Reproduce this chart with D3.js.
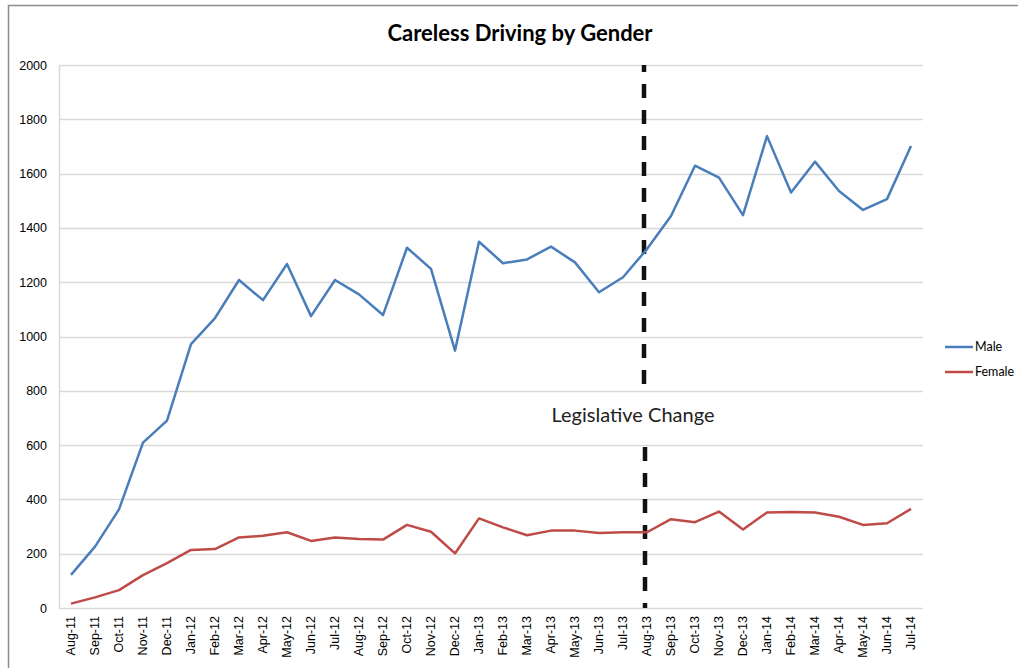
<!DOCTYPE html>
<html>
<head>
<meta charset="utf-8">
<script src="https://cdn.jsdelivr.net/npm/d3@7"></script>
<style>
  body { margin: 0; background: #fff; }
  svg { display: block; font-family: Lato, "Open Sans", sans-serif; }
</style>
</head>
<body>
<div id="chart"></div>
<script>
var months = ['Aug-11', 'Sep-11', 'Oct-11', 'Nov-11', 'Dec-11', 'Jan-12', 'Feb-12', 'Mar-12', 'Apr-12', 'May-12', 'Jun-12', 'Jul-12',
  'Aug-12', 'Sep-12', 'Oct-12', 'Nov-12', 'Dec-12', 'Jan-13', 'Feb-13', 'Mar-13', 'Apr-13', 'May-13', 'Jun-13', 'Jul-13',
  'Aug-13', 'Sep-13', 'Oct-13', 'Nov-13', 'Dec-13', 'Jan-14', 'Feb-14', 'Mar-14', 'Apr-14', 'May-14', 'Jun-14', 'Jul-14'];
var male = [122, 226, 363, 609, 690, 972, 1068, 1208, 1134, 1267, 1075, 1208,
  1155, 1079, 1327, 1249, 948, 1349, 1270, 1284, 1331, 1273, 1163, 1218,
  1322, 1444, 1629, 1585, 1447, 1738, 1530, 1644, 1536, 1466, 1506, 1702];
var female = [16, 39, 66, 121, 165, 214, 217, 260, 266, 279, 247, 260,
  254, 252, 306, 281, 201, 330, 297, 268, 285, 285, 276, 279,
  279, 327, 316, 355, 289, 352, 354, 352, 336, 306, 312, 365];
var yTicks = [0, 200, 400, 600, 800, 1000, 1200, 1400, 1600, 1800, 2000];
var series = [
  {name: 'Male', values: male, color: '#4a7ebb'},
  {name: 'Female', values: female, color: '#be4b48'}
];
var changeMonth = 'Aug-13';

var width = 1018, height = 668;
var margin = {top: 65, right: 95, bottom: 60, left: 59};
var innerW = width - margin.left - margin.right;
var innerH = height - margin.top - margin.bottom;

var svg = d3.select('#chart').append('svg').attr('width', width).attr('height', height);

// outer chart frame
svg.append('path')
  .attr('d', 'M8.5,' + height + 'V5.5H' + width)
  .attr('fill', 'none').attr('stroke', '#8c8c8c').attr('stroke-width', 1.5);

var g = svg.append('g').attr('transform', 'translate(' + margin.left + ',' + margin.top + ')');

var x = d3.scaleBand().domain(months).range([0, innerW]);
var y = d3.scaleLinear().domain([0, 2000]).range([innerH, 0]);
var xc = function(d) { return x(d) + x.bandwidth() / 2; };

// gridlines
g.append('g').selectAll('line').data(yTicks).enter().append('line')
  .attr('x1', 0).attr('x2', innerW)
  .attr('y1', function(d) { return Math.round(y(d)) + 0.5; })
  .attr('y2', function(d) { return Math.round(y(d)) + 0.5; })
  .attr('stroke', '#d9d9d9').attr('stroke-width', 1.5);
g.append('line').attr('x1', 0.5).attr('x2', 0.5).attr('y1', 0).attr('y2', innerH)
  .attr('stroke', '#d9d9d9').attr('stroke-width', 1.5);

// y axis
var yAxis = g.append('g').call(d3.axisLeft(y).tickValues(yTicks).tickFormat(d3.format('d')).tickSize(0).tickPadding(12));
yAxis.select('.domain').remove();
yAxis.selectAll('text').attr('font-size', 12.5).attr('fill', '#000');

// x axis
var xAxis = g.append('g').attr('transform', 'translate(0,' + innerH + ')')
  .call(d3.axisBottom(x).tickSize(0).tickPadding(0));
xAxis.select('.domain').remove();
xAxis.selectAll('text')
  .attr('font-size', 12.5).attr('fill', '#000')
  .attr('transform', 'rotate(-90)')
  .attr('text-anchor', 'end')
  .attr('x', -8).attr('y', 0).attr('dy', '0.35em');

// legislative change marker
var cx = xc(changeMonth) - 3;
var textY = y(712);
g.append('line').attr('x1', cx).attr('x2', cx).attr('y1', 0).attr('y2', y(790))
  .attr('stroke', '#111').attr('stroke-width', 4.5).attr('stroke-dasharray', '14,12').attr('stroke-dashoffset', 7);
g.append('line').attr('x1', cx + 1).attr('x2', cx + 1).attr('y1', y(593)).attr('y2', innerH)
  .attr('stroke', '#111').attr('stroke-width', 4.5).attr('stroke-dasharray', '14,12');
g.append('text').attr('x', cx - 11).attr('y', textY).attr('dy', '0.35em')
  .attr('text-anchor', 'middle').attr('font-size', 20).attr('fill', '#222')
  .text('Legislative Change');

// lines
var line = d3.line()
  .x(function(d, i) { return xc(months[i]); })
  .y(function(d) { return y(d); });
g.selectAll('.series').data(series).enter().append('path')
  .attr('class', 'series')
  .attr('d', function(d) { return line(d.values); })
  .attr('fill', 'none')
  .attr('stroke', function(d) { return d.color; })
  .attr('stroke-width', 2.5)
  .attr('stroke-linejoin', 'round');

// legend
var legend = svg.append('g').attr('transform', 'translate(945,347)');
var item = legend.selectAll('g').data(series).enter().append('g')
  .attr('transform', function(d, i) { return 'translate(0,' + i * 25 + ')'; });
item.append('line').attr('x1', 0).attr('x2', 28).attr('y1', 0).attr('y2', 0)
  .attr('stroke', function(d) { return d.color; }).attr('stroke-width', 2.5);
item.append('text').attr('x', 30).attr('dy', '0.35em').attr('font-size', 12.5).attr('fill', '#000')
  .text(function(d) { return d.name; });

// title
svg.append('text').attr('x', 520).attr('y', 41)
  .attr('text-anchor', 'middle').attr('font-size', 22).attr('font-weight', 'bold').attr('fill', '#000')
  .text('Careless Driving by Gender');
</script>
</body>
</html>
